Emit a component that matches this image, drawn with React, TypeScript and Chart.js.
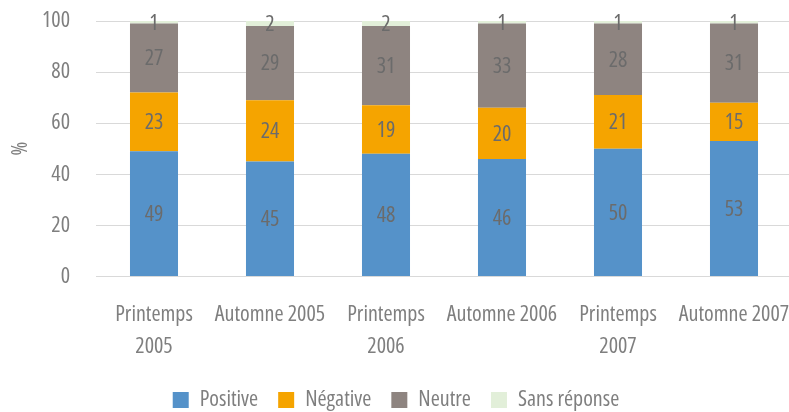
import React, { useEffect, useRef } from "react";
import { Chart, registerables } from "chart.js";

Chart.register(...registerables);

const categories: (string | string[])[] = [
  ["Printemps", "2005"],
  "Automne 2005",
  ["Printemps", "2006"],
  "Automne 2006",
  ["Printemps", "2007"],
  "Automne 2007",
];
const positive = [49, 45, 48, 46, 50, 53];
const negative = [23, 24, 19, 20, 21, 15];
const neutre = [27, 29, 31, 33, 28, 31];
const sansReponse = [1, 2, 2, 1, 1, 1];
const yTicks = [0, 20, 40, 60, 80, 100];

const FAMILY = "'Open Sans', sans-serif";
const STRETCH = "condensed"; // passed through Chart.js font weight slot -> "condensed 22px 'Open Sans'"
const TEXT = "#7f7f7f";

const dataLabels = {
  id: "dataLabels",
  afterDatasetsDraw(chart: any) {
    const ctx = chart.ctx;
    ctx.save();
    ctx.font = `${STRETCH} 22px ${FAMILY}`;
    ctx.fillStyle = "#6b6b6b";
    ctx.textAlign = "center";
    ctx.textBaseline = "middle";
    chart.data.datasets.forEach((ds: any, i: number) => {
      const meta = chart.getDatasetMeta(i);
      meta.data.forEach((el: any, j: number) => {
        const v = ds.data[j];
        const p = el.getProps(["x", "y", "base"], true);
        ctx.fillText(String(v), p.x, (p.y + p.base) / 2 + 1);
      });
    });
    ctx.restore();
  },
};

export default function App() {
  const ref = useRef<HTMLCanvasElement | null>(null);
  useEffect(() => {
    if (!ref.current) return;
    const font = (size: number, lineHeight?: number) => ({
      family: FAMILY,
      size,
      weight: STRETCH as any,
      ...(lineHeight ? { lineHeight } : {}),
    });
    const chart = new Chart(ref.current, {
      type: "bar",
      data: {
        labels: categories,
        datasets: [
          { label: "Positive", data: positive, backgroundColor: "#5592C9" },
          { label: "Négative", data: negative, backgroundColor: "#F5A400" },
          { label: "Neutre", data: neutre, backgroundColor: "#8E8480" },
          { label: "Sans réponse", data: sansReponse, backgroundColor: "#E2EFD9" },
        ],
      },
      options: {
        responsive: false,
        animation: false,
        layout: { padding: { top: 21, right: 8, left: 0, bottom: -9 } },
        datasets: { bar: { categoryPercentage: 1, barPercentage: 0.414 } },
        plugins: {
          tooltip: { enabled: false },
          legend: {
            position: "bottom",
            labels: {
              boxWidth: 16,
              boxHeight: 16,
              padding: 20,
              color: TEXT,
              font: font(22),
            },
          },
        },
        scales: {
          x: {
            stacked: true,
            grid: { display: false, drawTicks: false },
            border: { display: false },
            ticks: {
              color: TEXT,
              padding: 22,
              maxRotation: 0,
              autoSkip: false,
              font: font(22, 1.45),
            },
            afterFit(scale: any) {
              scale.height = 92.5;
              scale.paddingLeft = 0;
              scale.paddingRight = 0;
            },
          },
          y: {
            stacked: true,
            min: 0,
            max: 100,
            afterBuildTicks(scale: any) {
              scale.ticks = yTicks.map((v) => ({ value: v }));
            },
            grid: { color: "#d9d9d9", drawTicks: false, lineWidth: 1 },
            border: { display: false },
            ticks: {
              color: TEXT,
              padding: 26,
              font: font(22),
            },
            title: {
              display: true,
              text: "%",
              color: TEXT,
              padding: { top: 8, bottom: 0 },
              font: font(21),
            },
            afterFit(scale: any) {
              scale.width = 96;
              scale.paddingTop = 0;
              scale.paddingBottom = 0;
            },
          },
        },
      },
      plugins: [dataLabels],
    });
    return () => chart.destroy();
  }, []);
  return (
    <div style={{ position: "fixed", left: 0, top: 0, width: 800, height: 412 }}>
      <canvas ref={ref} width={800} height={412} />
    </div>
  );
}
